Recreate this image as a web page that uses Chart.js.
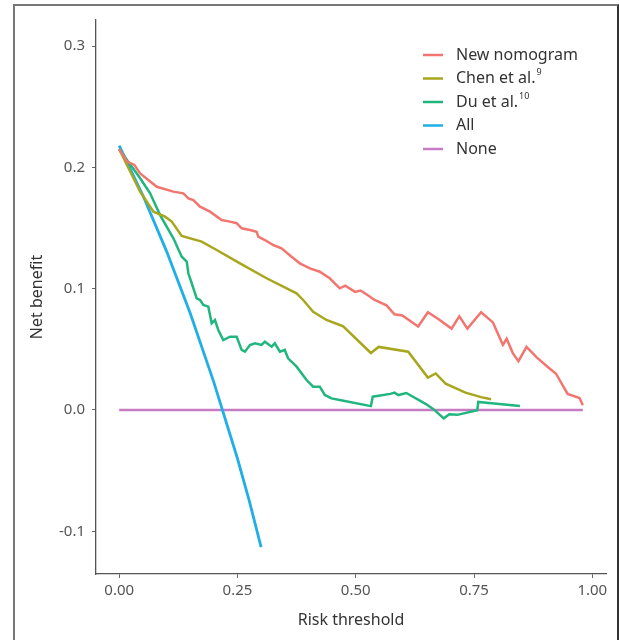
<!DOCTYPE html>
<html>
<head>
<meta charset="utf-8">
<script src="https://cdn.jsdelivr.net/npm/chart.js@4.4.0/dist/chart.umd.min.js"></script>
<style>
  html, body { margin: 0; padding: 0; background: #fff; }
  #wrap { position: relative; width: 619px; height: 640px; overflow: hidden; }
  #frame { position: absolute; left: 13px; top: 4px; width: 602px; height: 700px;
           border: 2px solid #777; border-right-color: #333; }
  #curve { position: absolute; left: 0; top: 0; }
</style>
</head>
<body>
<div id="wrap">
  <div id="frame"></div>
  <canvas id="curve" width="619" height="640"></canvas>
</div>
<script>
// Decision curve: net benefit vs risk threshold
const xTicks = [0, 0.25, 0.5, 0.75, 1.0];
const yTicks = [-0.1, 0.0, 0.1, 0.2, 0.3];

const nomogramX = [0, 0.016, 0.032, 0.0443, 0.0795, 0.1146, 0.1357, 0.1462, 0.1568, 0.1709, 0.192, 0.2166, 0.2342, 0.2483, 0.2589, 0.2764, 0.2905, 0.294, 0.308, 0.3256, 0.3432, 0.3643, 0.3819, 0.403, 0.424, 0.445, 0.4662, 0.478, 0.4985, 0.51, 0.524, 0.54, 0.565, 0.582, 0.5985, 0.632, 0.6525, 0.673, 0.7025, 0.719, 0.736, 0.765, 0.79, 0.811, 0.819, 0.832, 0.844, 0.861, 0.882, 0.9065, 0.923, 0.948, 0.973, 0.98];
const nomogramY = [0.215, 0.205, 0.202, 0.195, 0.184, 0.18, 0.1786, 0.1745, 0.1731, 0.1676, 0.1635, 0.1566, 0.1553, 0.154, 0.1498, 0.1484, 0.147, 0.1429, 0.1401, 0.136, 0.1333, 0.1264, 0.1209, 0.1168, 0.114, 0.1086, 0.1003, 0.1025, 0.0974, 0.0985, 0.095, 0.0907, 0.0863, 0.0789, 0.0779, 0.0688, 0.0806, 0.0755, 0.0671, 0.0772, 0.0671, 0.0806, 0.0722, 0.0537, 0.0587, 0.0469, 0.0402, 0.052, 0.0436, 0.0352, 0.0301, 0.0133, 0.0099, 0.0039];

const chenX = [0, 0.0443, 0.0724, 0.097, 0.1111, 0.1322, 0.1744, 0.2061, 0.2553, 0.3115, 0.3749, 0.3889, 0.41, 0.4382, 0.4662, 0.474, 0.532, 0.5485, 0.611, 0.6525, 0.669, 0.69, 0.732, 0.765, 0.786];
const chenY = [0.215, 0.18, 0.1635, 0.1594, 0.1553, 0.1435, 0.1388, 0.1319, 0.1209, 0.1086, 0.0962, 0.0907, 0.081, 0.0742, 0.0701, 0.0688, 0.047, 0.052, 0.048, 0.0267, 0.0301, 0.0217, 0.0143, 0.0106, 0.0089];

const duX = [0, 0.0443, 0.0654, 0.0865, 0.1146, 0.1322, 0.1428, 0.1462, 0.1533, 0.1638, 0.1709, 0.1779, 0.1884, 0.1955, 0.2025, 0.2095, 0.22, 0.2342, 0.2483, 0.2589, 0.2658, 0.2764, 0.287, 0.301, 0.308, 0.3222, 0.329, 0.3397, 0.35, 0.357, 0.375, 0.396, 0.41, 0.424, 0.4346, 0.4487, 0.4662, 0.532, 0.536, 0.573, 0.582, 0.59, 0.607, 0.6485, 0.665, 0.686, 0.698, 0.715, 0.757, 0.759, 0.787, 0.847];
const duY = [0.215, 0.191, 0.1786, 0.1607, 0.1415, 0.1264, 0.1223, 0.1127, 0.1045, 0.0921, 0.0907, 0.0866, 0.0852, 0.0715, 0.0742, 0.066, 0.0577, 0.0604, 0.0604, 0.0495, 0.0481, 0.0536, 0.055, 0.0536, 0.0563, 0.0522, 0.055, 0.0481, 0.0495, 0.0426, 0.0357, 0.0247, 0.0192, 0.0192, 0.0124, 0.0096, 0.0082, 0.0032, 0.011, 0.0133, 0.0143, 0.0123, 0.014, 0.0049, 0.0005, -0.0069, -0.0035, -0.004, -0.0002, 0.0066, 0.0055, 0.0032];

const allX = [0, 0.05, 0.10, 0.15, 0.20, 0.25, 0.275, 0.30];
const allY = [0.218, 0.177, 0.131, 0.080, 0.023, -0.040, -0.075, -0.113];

const noneX = [0, 0.98];
const noneY = [0, 0];

const seriesNames = ['New nomogram', 'Chen et al.', 'Du et al.', 'All', 'None'];
const seriesSups = ['', '9', '10', '', ''];
const seriesColors = ['#F2766F', '#A8A61C', '#22B67F', '#1FAEE6', '#C67CC2'];

function toPoints(xs, ys) {
    return xs.map((x, i) => ({ x: x, y: ys[i] }));
}

const seriesData = [
    toPoints(nomogramX, nomogramY),
    toPoints(chenX, chenY),
    toPoints(duX, duY),
    toPoints(allX, allY),
    toPoints(noneX, noneY)
];

// legend with superscripts, drawn inside the plot
const curveLegend = {
    id: 'curveLegend',
    afterDatasetsDraw(chart) {
        const ctx = chart.ctx;
        ctx.save();
        seriesNames.forEach((name, i) => {
            const y = 55 + i * 23.5;
            ctx.strokeStyle = seriesColors[i];
            ctx.lineWidth = 2.5;
            ctx.beginPath();
            ctx.moveTo(423, y);
            ctx.lineTo(443, y);
            ctx.stroke();
            ctx.fillStyle = '#333';
            ctx.font = '16px "Noto Sans"';
            ctx.textBaseline = 'middle';
            ctx.fillText(name, 456, y);
            if (seriesSups[i]) {
                const w = ctx.measureText(name).width;
                ctx.font = '9px "Noto Sans"';
                ctx.fillText(seriesSups[i], 456 + w + 1, y - 6);
            }
        });
        ctx.restore();
    }
};

const ctx = document.getElementById('curve').getContext('2d');
const chart = new Chart(ctx, {
    type: 'line',
    data: {
        datasets: seriesData.map((pts, i) => ({
            label: seriesNames[i],
            data: pts,
            borderColor: seriesColors[i],
            borderWidth: i === 3 ? 2.8 : 2.5,
            pointRadius: 0,
            tension: 0,
            fill: false
        }))
    },
    options: {
        responsive: false,
        animation: false,
        layout: { padding: { left: 0, right: 13, top: 20, bottom: 0 } },
        plugins: {
            legend: { display: false },
            tooltip: { enabled: false }
        },
        scales: {
            x: {
                type: 'linear',
                min: -0.049,
                max: 1.029,
                afterFit: (scale) => { scale.height = 66; },
                afterBuildTicks: (scale) => { scale.ticks = xTicks.map(v => ({ value: v })); },
                grid: { drawOnChartArea: false, tickLength: 4, color: '#666' },
                border: { color: '#555', width: 1.3 },
                ticks: {
                    color: '#555',
                    font: { family: 'Noto Sans', size: 15 },
                    padding: 4,
                    maxRotation: 0,
                    callback: (v) => v.toFixed(2)
                },
                title: {
                    display: true,
                    text: 'Risk threshold',
                    color: '#333',
                    font: { family: 'Noto Sans', size: 16 },
                    padding: { top: 0, bottom: 10 }
                }
            },
            y: {
                type: 'linear',
                min: -0.1352,
                max: 0.3215,
                afterFit: (scale) => { scale.width = 96; },
                afterBuildTicks: (scale) => { scale.ticks = yTicks.map(v => ({ value: v })); },
                grid: { drawOnChartArea: false, tickLength: 4, color: '#666' },
                border: { color: '#555', width: 1.3 },
                ticks: {
                    color: '#555',
                    font: { family: 'Noto Sans', size: 15 },
                    padding: 7,
                    callback: (v) => v.toFixed(1)
                },
                title: {
                    display: true,
                    text: 'Net benefit',
                    color: '#333',
                    font: { family: 'Noto Sans', size: 16 },
                    padding: { top: 28, bottom: 0 }
                }
            }
        }
    },
    plugins: [curveLegend]
});
</script>
</body>
</html>
